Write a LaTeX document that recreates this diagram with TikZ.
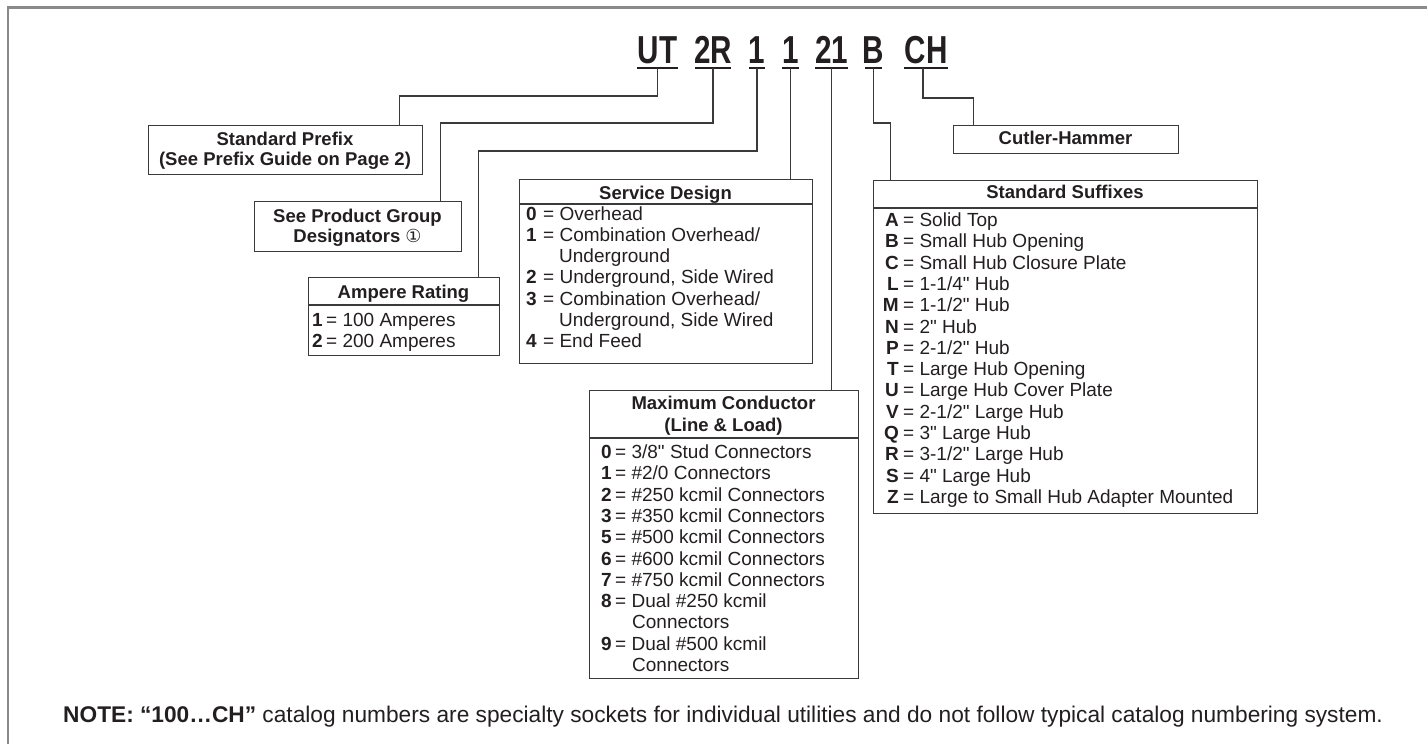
\documentclass[tikz,border=0pt]{standalone}
\usepackage{fontspec}
\setmainfont{Liberation Sans}[Ligatures=TeXOff]
\newfontfamily\symfont{DejaVu Sans}
\usepackage{graphicx}
\definecolor{ink}{HTML}{231F20}
\definecolor{framec}{HTML}{8A8A8A}
\definecolor{rulec}{HTML}{3A3A3A}
\tikzset{
 box/.style={draw=rulec, line width=1.3pt, anchor=north west, inner sep=0pt},
 conn/.style={draw=rulec, line width=1.3pt},
 uline/.style={draw=ink, line width=2.2pt},
 hdr/.style={font=\fontsize{18.5}{21.3}\selectfont\bfseries, text=ink, inner sep=0pt, anchor=base},
 itxt/.style={font=\fontsize{19}{21.3}\selectfont, text=ink, inner sep=0pt, anchor=base west},
 ikey/.style={font=\fontsize{19}{21.3}\selectfont\bfseries, text=ink, inner sep=0pt, anchor=base east},
 ttl/.style={font=\fontsize{39}{39}\selectfont\bfseries, text=ink, inner sep=0pt, anchor=base},
 notetxt/.style={font=\fontsize{22.7}{24}\selectfont, text=ink, inner sep=0pt, anchor=base west},
}
\newcommand\cond[1]{\scalebox{0.76}[1]{#1}}
\newcommand\inch{\symbol{34}}
\begin{document}
\begin{tikzpicture}[x=1pt,y=-1pt]
\useasboundingbox (0,0) rectangle (1427,744);
% frame
\draw[framec, line width=2.2pt] (8,744) -- (8,7.5) -- (1427,7.5);
% title
\node[ttl] (tUT) at (657.5,63) {\cond{UT}};
\node[ttl] (t2R) at (713,63) {\cond{2R}};
\node[ttl] (t1a) at (757,63) {\cond{1}};
\node[ttl] (t1b) at (790.5,63) {\cond{1}};
\node[ttl] (t21) at (831.5,63) {\cond{21}};
\node[ttl] (tB) at (873.5,63) {\cond{B}};
\node[ttl] (tCH) at (926,63) {\cond{CH}};
\foreach \n/\w in {tUT/20.5, t2R/18, t1a/8, t1b/8.5, t21/16.5, tB/8.5, tCH/22}
  \draw[uline] ([xshift=-\w pt,yshift=-5pt]\n.base) -- ([xshift=\w pt,yshift=-5pt]\n.base);
% boxes
\node[box, minimum width=274pt, minimum height=49pt] (sp) at (148,125) {};
\node[box, minimum width=207pt, minimum height=50pt] (pg) at (254,201) {};
\node[box, minimum width=191pt, minimum height=78pt] (ar) at (308,277) {};
\node[box, minimum width=293pt, minimum height=184pt] (sd) at (519,179) {};
\node[box, minimum width=269pt, minimum height=288pt] (mc) at (589,390) {};
\node[box, minimum width=384pt, minimum height=333pt] (ss) at (873,180) {};
\node[box, minimum width=225pt, minimum height=28pt] (ch) at (953,125) {};
% header separators
\draw[conn] ([yshift=-28pt]ar.north west) -- ([yshift=-28pt]ar.north east);
\draw[conn] ([yshift=-25pt]sd.north west) -- ([yshift=-25pt]sd.north east);
\draw[conn] ([yshift=-48pt]mc.north west) -- ([yshift=-48pt]mc.north east);
\draw[conn] ([yshift=-28pt]ss.north west) -- ([yshift=-28pt]ss.north east);
% connectors
\draw[conn] ([yshift=-5pt]tUT.base) -- ++(0,28) -| ([xshift=114pt]sp.north);
\draw[conn] ([yshift=-5pt]t2R.base) -- ++(0,55) -| ([xshift=82.5pt]pg.north);
\draw[conn] ([yshift=-5pt]t1a.base) -- ++(0,83) -| ([xshift=74.5pt]ar.north);
\draw[conn] ([yshift=-5pt]t1b.base) -- (t1b.base |- sd.north);
\draw[conn] ([yshift=-5pt]t21.base) -- (t21.base |- mc.north);
\draw[conn] ([yshift=-5pt]tB.base) -- ++(0,55) -| ([xshift=-175pt]ss.north);
\draw[conn] ([xshift=-3pt,yshift=-5pt]tCH.base) -- ++(0,30) -| ([xshift=-92.5pt]ch.north);
% headers
\node[hdr] (sph1) at (285,145) {Standard Prefix};
\node[hdr] (sph2) at (285,165) {(See Prefix Guide on Page 2)};
\node[hdr] (pgh1) at (357.5,222) {See Product Group};
\node[hdr] (pgh2) at (357.5,242) {Designators {\symfont\fontsize{18}{18}\selectfont\mdseries ①}};
\node[hdr] (arh) at (403.5,298) {Ampere Rating};
\node[hdr] (sdh) at (665.5,199) {Service Design};
\node[hdr] (mch1) at (723.5,409.5) {Maximum Conductor};
\node[hdr] (mch2) at (723.5,431.5) {(Line \& Load)};
\node[hdr] (ssh) at (1065,198.5) {Standard Suffixes};
\node[hdr] (chh) at (1065.5,144) {Cutler-Hammer};
% ampere items
\node[ikey] (ark1) at (323,326) {1}; \node[itxt] (art1) at (326,326) {= 100 Amperes};
\node[ikey] (ark2) at (323,347) {2}; \node[itxt] (art2) at (326,347) {= 200 Amperes};
% service design items
\foreach \k/\t [count=\i from 0] in {0/Overhead, 1/{Combination Overhead/}, /Underground, 2/{Underground, Side Wired}, 3/{Combination Overhead/}, /{Underground, Side Wired}, 4/End Feed}{
  \node[ikey] (sdk\i) at (537,220+21.3*\i) {\k};
  \ifx\k\empty
    \node[itxt] (sdt\i) at (559,220+21.3*\i) {\t};
  \else
    \node[itxt] (sdt\i) at (543,220+21.3*\i) {= \t};
  \fi
}
% max conductor items
\foreach \k/\t [count=\i from 0] in {0/{3/8\inch\ Stud Connectors}, 1/{\#2/0 Connectors}, 2/{\#250 kcmil Connectors}, 3/{\#350 kcmil Connectors}, 5/{\#500 kcmil Connectors}, 6/{\#600 kcmil Connectors}, 7/{\#750 kcmil Connectors}, 8/{Dual \#250 kcmil}, /Connectors, 9/{Dual \#500 kcmil}, /Connectors}{
  \node[ikey] (mck\i) at (612,458.5+21.3*\i) {\k};
  \ifx\k\empty
    \node[itxt] (mct\i) at (632,458.5+21.3*\i) {\t};
  \else
    \node[itxt] (mct\i) at (615,458.5+21.3*\i) {= \t};
  \fi
}
% suffix items
\foreach \k/\t [count=\i from 0] in {A/Solid Top, B/Small Hub Opening, C/Small Hub Closure Plate, L/{1-1/4\inch\ Hub}, M/{1-1/2\inch\ Hub}, N/{2\inch\ Hub}, P/{2-1/2\inch\ Hub}, T/Large Hub Opening, U/Large Hub Cover Plate, V/{2-1/2\inch\ Large Hub}, Q/{3\inch\ Large Hub}, R/{3-1/2\inch\ Large Hub}, S/{4\inch\ Large Hub}, Z/Large to Small Hub Adapter Mounted}{
  \node[ikey] (ssk\i) at (899,226.5+21.3*\i) {\k};
  \node[itxt] (sst\i) at (903,226.5+21.3*\i) {= \t};
}
% note
\node[notetxt] (note) at (63,722) {\textbf{NOTE: “100…CH”} catalog numbers are specialty sockets for individual utilities and do not follow typical catalog numbering system.};
\end{tikzpicture}
\end{document}
